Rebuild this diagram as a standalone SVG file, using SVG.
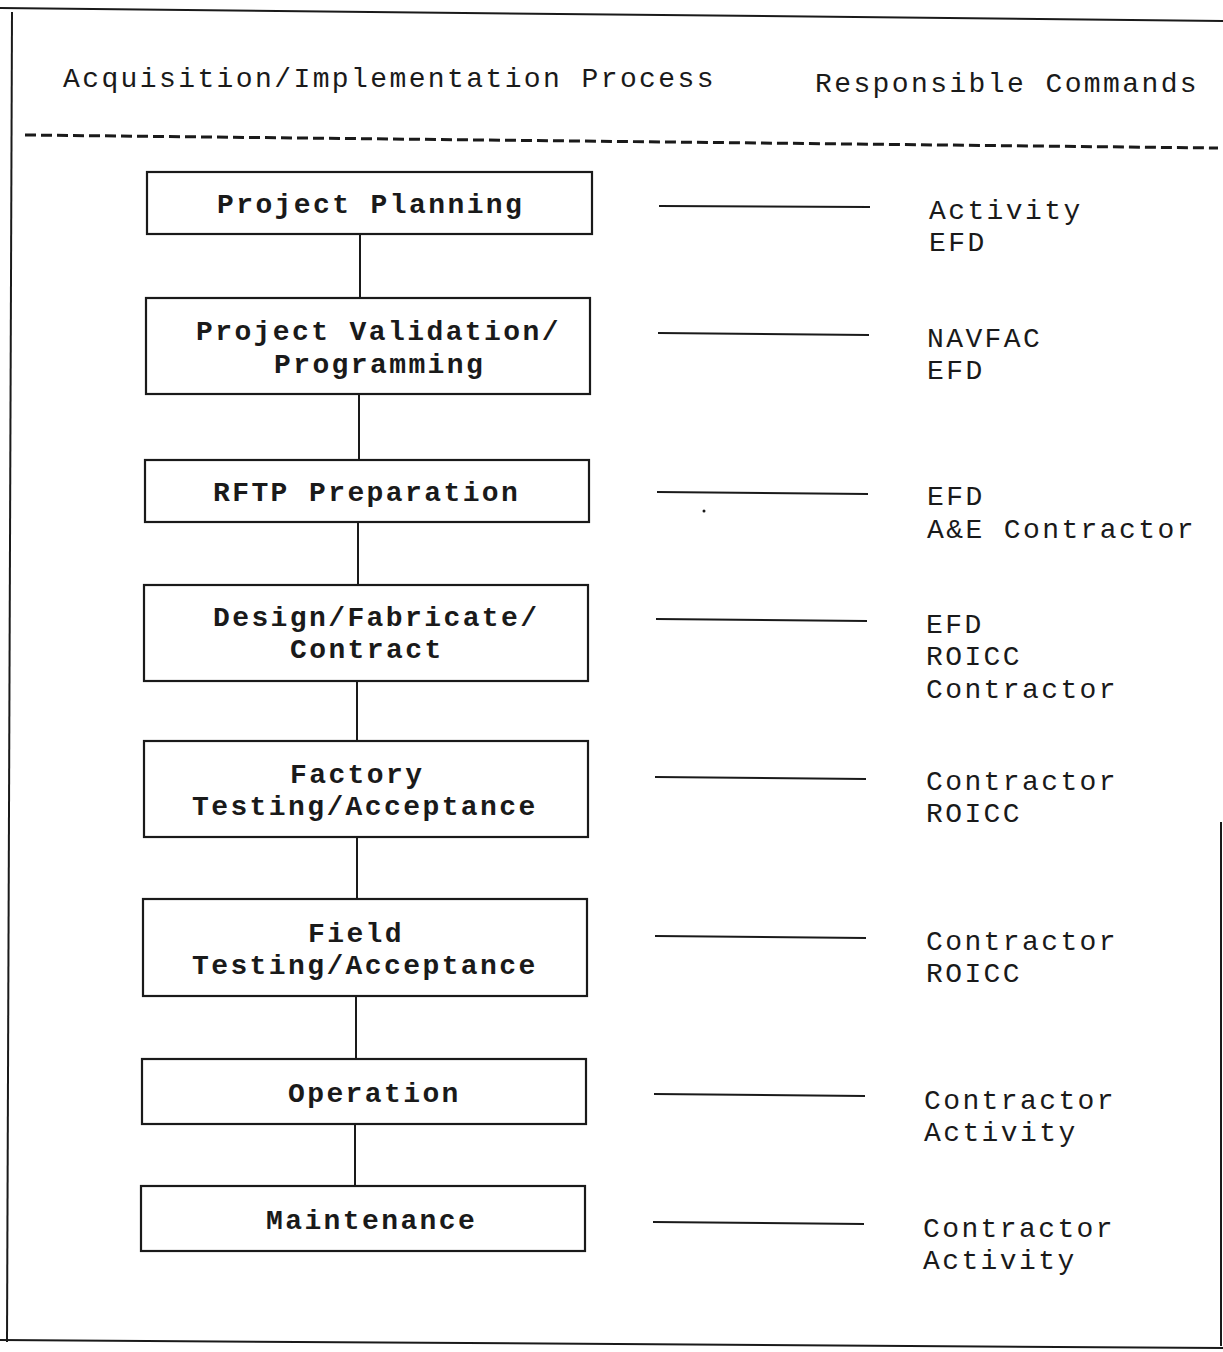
<svg xmlns="http://www.w3.org/2000/svg" width="1223" height="1352" viewBox="0 0 1223 1352">
<style>
  .frame{fill:none;stroke:#1a1a1a;stroke-width:2}
  .box{fill:#fff;stroke:#1a1a1a;stroke-width:2.2}
  .conn{fill:none;stroke:#1a1a1a;stroke-width:2}
  .hd{font-family:"Liberation Mono","Courier New",monospace;font-size:28px;letter-spacing:2.4px;fill:#1a1a1a}
  .bt{font-family:"Liberation Mono","Courier New",monospace;font-size:28px;letter-spacing:2.4px;font-weight:bold;fill:#1a1a1a}
  .lb{font-family:"Liberation Mono","Courier New",monospace;font-size:28px;letter-spacing:2.4px;fill:#1a1a1a}
</style>
<rect width="1223" height="1352" fill="#fff"/>
<g id="frame">
  <line class="frame" x1="0" y1="8" x2="1223" y2="21"/>
  <line class="frame" x1="12" y1="12" x2="7" y2="1342"/>
  <line class="frame" x1="0" y1="1340" x2="1223" y2="1348"/>
  <line class="frame" x1="1221" y1="822" x2="1221" y2="1346"/>
  <line x1="25" y1="135" x2="1218" y2="148" stroke="#1a1a1a" stroke-width="3" stroke-dasharray="11,5"/>
  <circle cx="704" cy="511" r="1.5" fill="#1a1a1a"/>
</g>
<g id="headers">
  <text class="hd" x="63" y="87">Acquisition/Implementation Process</text>
  <text class="hd" x="815" y="92">Responsible Commands</text>
</g>
<g id="connectors">
  <line class="conn" x1="360" y1="234" x2="360" y2="298"/>
  <line class="conn" x1="359" y1="394" x2="359" y2="460"/>
  <line class="conn" x1="358" y1="522" x2="358" y2="585"/>
  <line class="conn" x1="357" y1="681" x2="357" y2="741"/>
  <line class="conn" x1="357" y1="837" x2="357" y2="899"/>
  <line class="conn" x1="356" y1="996" x2="356" y2="1059"/>
  <line class="conn" x1="355" y1="1124" x2="355" y2="1186"/>
  <line class="conn" x1="659" y1="206" x2="870" y2="207"/>
  <line class="conn" x1="658" y1="333" x2="869" y2="335"/>
  <line class="conn" x1="657" y1="492" x2="868" y2="494"/>
  <line class="conn" x1="656" y1="619" x2="867" y2="621"/>
  <line class="conn" x1="655" y1="777" x2="866" y2="779"/>
  <line class="conn" x1="655" y1="936" x2="866" y2="938"/>
  <line class="conn" x1="654" y1="1094" x2="865" y2="1096"/>
  <line class="conn" x1="653" y1="1222" x2="864" y2="1224"/>
</g>
<g id="node-project-planning">
  <rect class="box" x="147" y="172" width="445" height="62"/>
  <text class="bt" x="217" y="213">Project Planning</text>
</g>
<g id="node-project-validation">
  <rect class="box" x="146" y="298" width="444" height="96"/>
  <text class="bt" x="196" y="340">Project Validation/</text>
  <text class="bt" x="274" y="373">Programming</text>
</g>
<g id="node-rftp-preparation">
  <rect class="box" x="145" y="460" width="444" height="62"/>
  <text class="bt" x="213" y="501">RFTP Preparation</text>
</g>
<g id="node-design">
  <rect class="box" x="144" y="585" width="444" height="96"/>
  <text class="bt" x="213" y="626">Design/Fabricate/</text>
  <text class="bt" x="290" y="658">Contract</text>
</g>
<g id="node-factory-testing">
  <rect class="box" x="144" y="741" width="444" height="96"/>
  <text class="bt" x="290" y="783">Factory</text>
  <text class="bt" x="192" y="815">Testing/Acceptance</text>
</g>
<g id="node-field-testing">
  <rect class="box" x="143" y="899" width="444" height="97"/>
  <text class="bt" x="308" y="942">Field</text>
  <text class="bt" x="192" y="974">Testing/Acceptance</text>
</g>
<g id="node-operation">
  <rect class="box" x="142" y="1059" width="444" height="65"/>
  <text class="bt" x="288" y="1102">Operation</text>
</g>
<g id="node-maintenance">
  <rect class="box" x="141" y="1186" width="444" height="65"/>
  <text class="bt" x="266" y="1229">Maintenance</text>
</g>
<g id="labels">
  <text class="lb" x="929" y="219">Activity</text>
  <text class="lb" x="929" y="251">EFD</text>
  <text class="lb" x="927" y="347">NAVFAC</text>
  <text class="lb" x="927" y="379">EFD</text>
  <text class="lb" x="927" y="505">EFD</text>
  <text class="lb" x="927" y="538">A&amp;E Contractor</text>
  <text class="lb" x="926" y="633">EFD</text>
  <text class="lb" x="926" y="665">ROICC</text>
  <text class="lb" x="926" y="698">Contractor</text>
  <text class="lb" x="926" y="790">Contractor</text>
  <text class="lb" x="926" y="822">ROICC</text>
  <text class="lb" x="926" y="950">Contractor</text>
  <text class="lb" x="926" y="982">ROICC</text>
  <text class="lb" x="924" y="1109">Contractor</text>
  <text class="lb" x="924" y="1141">Activity</text>
  <text class="lb" x="923" y="1237">Contractor</text>
  <text class="lb" x="923" y="1269">Activity</text>
</g>
</svg>
